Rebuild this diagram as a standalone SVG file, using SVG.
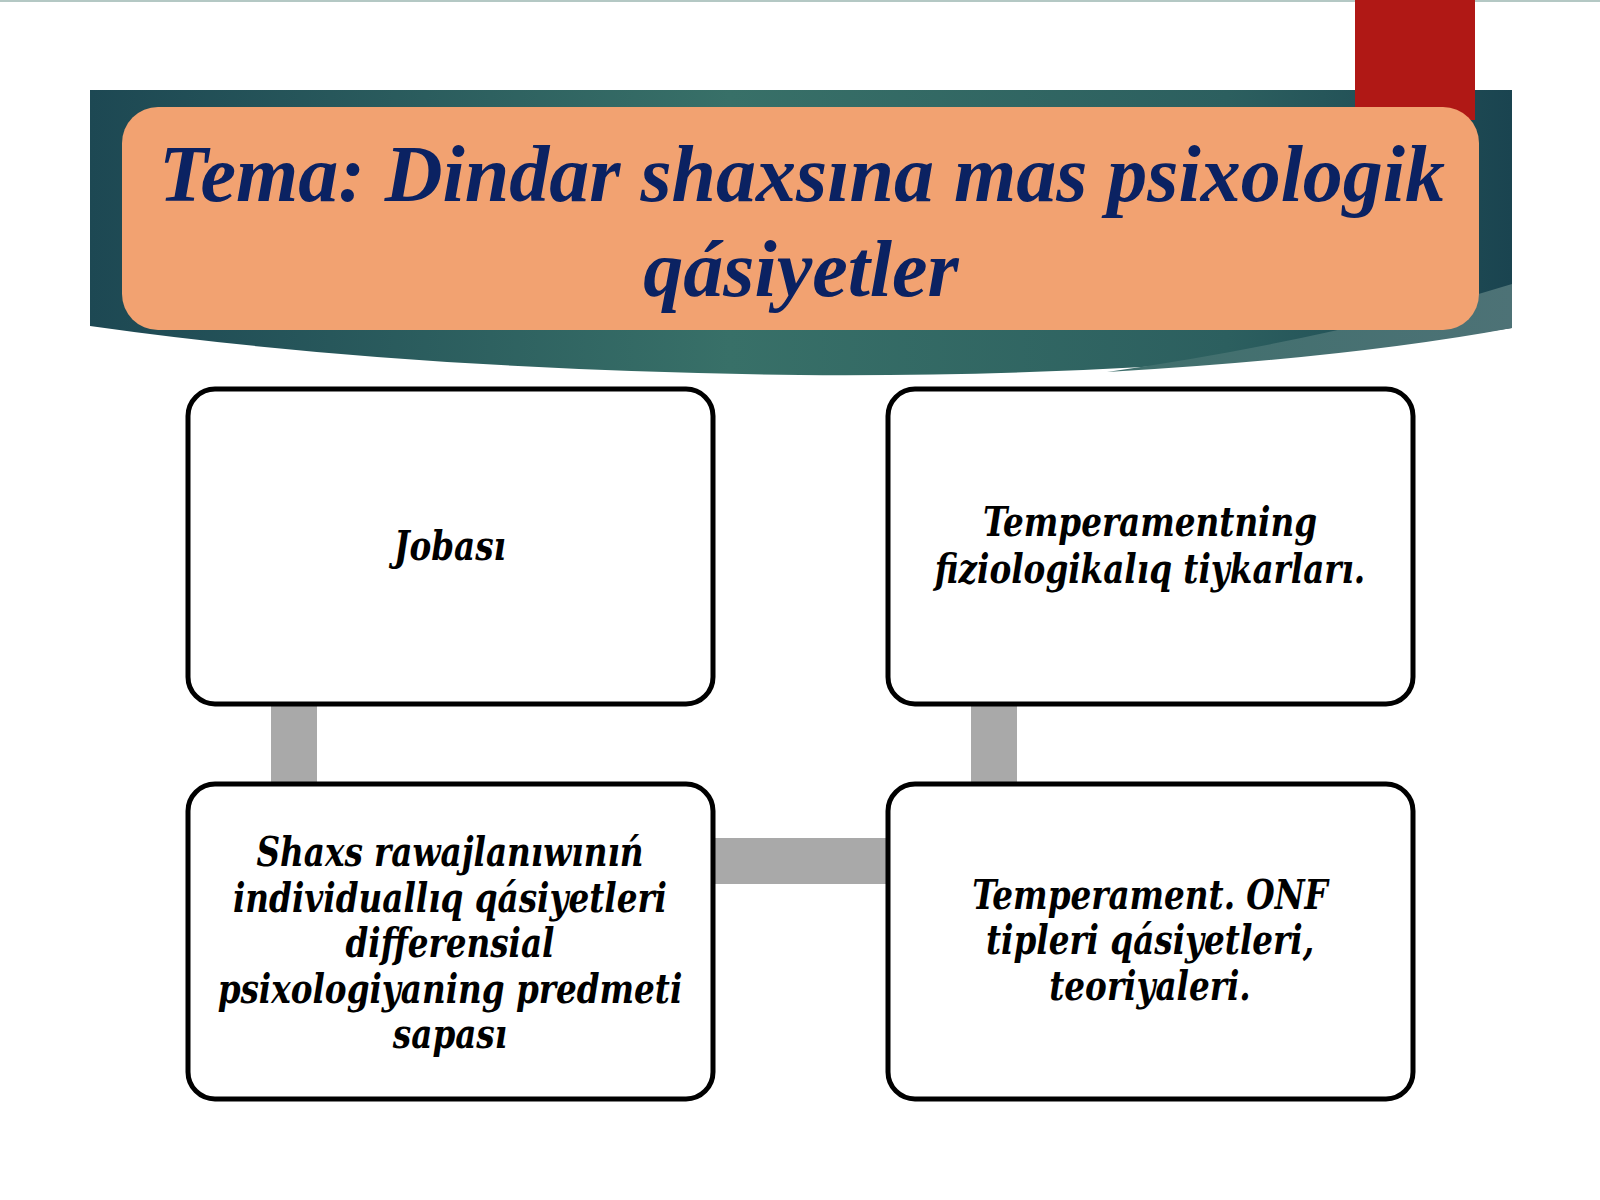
<svg xmlns="http://www.w3.org/2000/svg" width="1600" height="1200" viewBox="0 0 1600 1200">
  <defs>
    <linearGradient id="teal" x1="0" y1="0" x2="1" y2="0">
      <stop offset="0" stop-color="#1d4853"/>
      <stop offset="0.45" stop-color="#387068"/>
      <stop offset="0.8" stop-color="#2c5f5f"/>
      <stop offset="1" stop-color="#1a4450"/>
    </linearGradient>
    <linearGradient id="swoosh" x1="0" y1="0" x2="1" y2="0">
      <stop offset="0" stop-color="#3f6f6c"/>
      <stop offset="1" stop-color="#4d7276"/>
    </linearGradient>
  </defs>
  <style>
    .box { fill: #ffffff; stroke: #000000; stroke-width: 5; }
    .conn { fill: #a9a9a9; }
    .title { font-family: "Liberation Serif", "Times New Roman", serif; font-weight: bold; font-style: italic; font-size: 80px; fill: #0b2262; text-anchor: middle; }
    .lbl { font-family: "DejaVu Serif Condensed", "DejaVu Serif", serif; font-stretch: condensed; font-weight: bold; font-style: italic; font-size: 41px; fill: #000000; text-anchor: middle; }
  </style>
  <rect x="0" y="0" width="1600" height="1200" fill="#ffffff"/>
  <rect x="0" y="0" width="1600" height="2" fill="#b4c8c4"/>

  <g id="header">
    <path d="M90 90 H1512 V328 Q1200 378 800 375 Q400 370 90 326 Z" fill="url(#teal)"/>
    <path d="M1512 284 Q1330 340 1107 372 Q1350 358 1512 328 Z" fill="url(#swoosh)"/>
    <rect x="1355" y="0" width="120" height="120" fill="#b01815"/>
    <rect x="122" y="107" width="1357" height="223" rx="36" ry="36" fill="#f2a271"/>
    <text class="title" x="802" y="201">Tema: Dindar shaxsına mas psixologik</text>
    <text class="title" x="801" y="296">qásiyetler</text>
  </g>

  <g id="connectors">
    <rect class="conn" x="271" y="700" width="46" height="88"/>
    <rect class="conn" x="971" y="700" width="46" height="88"/>
    <rect class="conn" x="709" y="838" width="183" height="46"/>
  </g>

  <g id="node-jobasi">
    <rect class="box" x="188" y="389" width="525" height="315" rx="27" ry="27"/>
    <g transform="translate(450 0) scale(0.885 1)">
      <text class="lbl" x="0" y="560">Jobası</text>
    </g>
  </g>

  <g id="node-temperament-fiz">
    <rect class="box" x="888" y="389" width="525" height="315" rx="27" ry="27"/>
    <g transform="translate(1150 0) scale(0.885 1)">
      <text class="lbl" x="0" y="536">Temperamentning</text>
      <text class="lbl" x="0" y="583">fiziologikalıq tiykarları.</text>
    </g>
  </g>

  <g id="node-shaxs">
    <rect class="box" x="188" y="784" width="525" height="315" rx="27" ry="27"/>
    <g transform="translate(450 0) scale(0.885 1)">
      <text class="lbl" x="0" y="866">Shaxs rawajlanıwınıń</text>
      <text class="lbl" x="0" y="912">individuallıq qásiyetleri</text>
      <text class="lbl" x="0" y="957">differensial</text>
      <text class="lbl" x="0" y="1003">psixologiyaning predmeti</text>
      <text class="lbl" x="0" y="1048">sapası</text>
    </g>
  </g>

  <g id="node-temperament-onf">
    <rect class="box" x="888" y="784" width="525" height="315" rx="27" ry="27"/>
    <g transform="translate(1150 0) scale(0.885 1)">
      <text class="lbl" x="0" y="909">Temperament. ONF</text>
      <text class="lbl" x="0" y="954">tipleri qásiyetleri,</text>
      <text class="lbl" x="0" y="1000">teoriyaleri.</text>
    </g>
  </g>
</svg>
